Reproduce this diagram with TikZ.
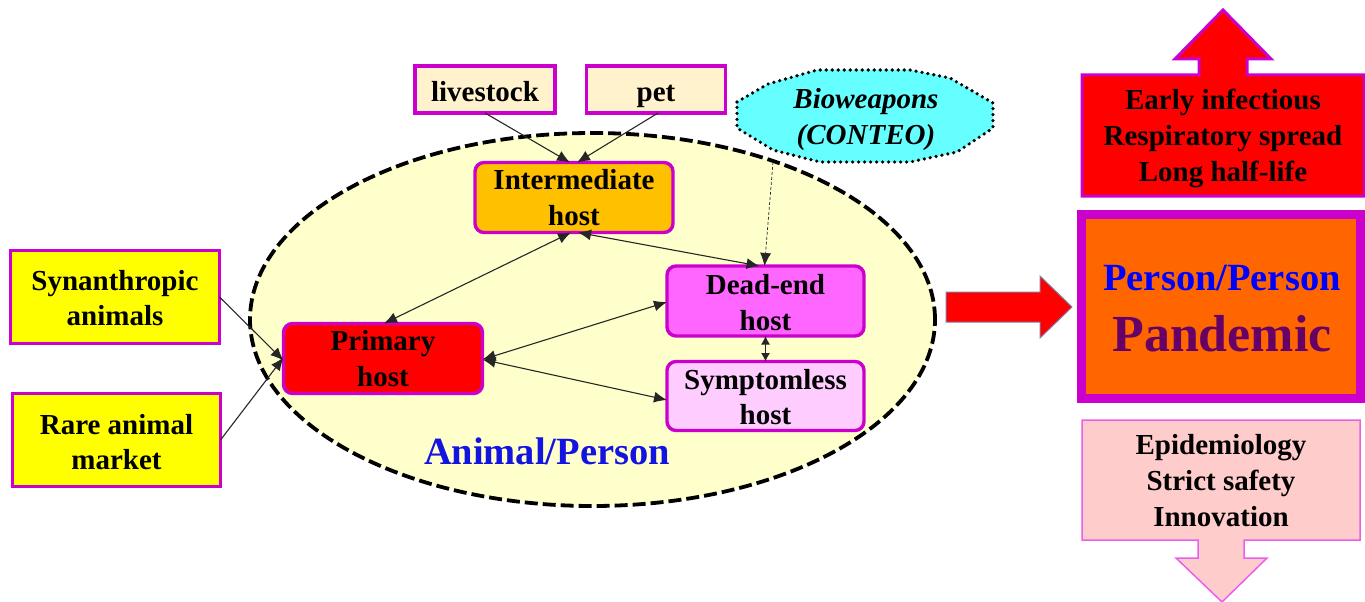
\documentclass[tikz,border=0pt]{standalone}
\usepackage{fontspec}
\setmainfont{Liberation Serif}
\usetikzlibrary{arrows.meta,shapes.geometric}
\definecolor{mag}{HTML}{CC00CC}
\definecolor{softmag}{HTML}{E95FE9}
\definecolor{ell}{HTML}{FFFFCC}
\definecolor{cream}{HTML}{FFF2CC}
\definecolor{amber}{HTML}{FFC000}
\definecolor{deadc}{HTML}{FF66FF}
\definecolor{symc}{HTML}{FFCCFF}
\definecolor{cyanb}{HTML}{66FFFF}
\definecolor{orangeb}{HTML}{FF6600}
\definecolor{pinkb}{HTML}{FFCCCC}
\definecolor{purp}{HTML}{660066}
\definecolor{greyblue}{HTML}{7A7FA8}
\definecolor{pureyellow}{HTML}{FFFF00}
\newcommand{\firstdrop}[1]{\rule{0pt}{#1pt}}
\tikzset{
  x=1pt,y=-1pt,
  lab/.style={font=\bfseries\fontsize{29}{36}\selectfont,align=center,text=black,inner sep=0pt,outer sep=0pt},
  sqbox/.style={lab,draw=mag,line width=3.4pt,rectangle},
  hostbox/.style={lab,draw=mag,line width=3.4pt,rectangle,rounded corners=9pt},
  link/.style={draw=black!85,line width=1.1pt,-{Latex[length=13pt,width=11pt]}},
  biway/.style={draw=black!85,line width=1.1pt,{Latex[length=13pt,width=11pt]}-{Latex[length=13pt,width=11pt]}},
  shortway/.style={draw=black!85,line width=1.1pt,{Latex[length=8.5pt,width=9pt]}-{Latex[length=8.5pt,width=9pt]}},
}
\begin{document}
\begin{tikzpicture}
\useasboundingbox (0,0) rectangle (1365,602);
% ellipse
\node[draw=black,fill=ell,line width=3.8pt,dash pattern=on 13pt off 5pt,ellipse,inner sep=0pt,outer sep=0pt,minimum width=685pt,minimum height=373pt] (region) at (592.5,319.5) {};
\node[font=\bfseries\fontsize{38.5}{44}\selectfont,text={rgb,255:red,20;green,20;blue,225},inner sep=0pt] (regionlabel) at (547,451) {Animal/Person};
% top boxes
\node[sqbox,fill=cream,minimum width=140pt,minimum height=47pt] (livestock) at (485,89.5) {\raisebox{0pt}[23pt][0pt]{livestock}};
\node[sqbox,fill=cream,minimum width=139pt,minimum height=47pt] (pet) at (656,89.5) {\raisebox{0pt}[23pt][0pt]{pet}};
\draw[fill=cyanb,draw=black,line width=3.6pt,line cap=round,dash pattern=on 0pt off 6pt]
  (737,102) -- (768,84) -- (817,70) -- (910,70) -- (950,78) -- (993,103) -- (993,128) -- (957,152) -- (910,162) -- (820,162) -- (773,150) -- (737,128) -- cycle;
\node[font=\bfseries\itshape\fontsize{29}{36}\selectfont,align=center,inner sep=0pt] (bio) at (866,119.5) {Bioweapons\\(CONTEO)};
\coordinate (biofoot) at (773,162);
% hosts
\node[hostbox,fill=amber,minimum width=198pt,minimum height=70pt] (inter) at (574,197.5) {Intermediate\\host};
\node[hostbox,fill=red,minimum width=199pt,minimum height=70pt] (primary) at (383,358.5) {Primary\\host};
\node[hostbox,fill=deadc,minimum width=197pt,minimum height=70pt] (dead) at (765.5,301) {\firstdrop{23}Dead-end\\host};
\node[hostbox,fill=symc,minimum width=197pt,minimum height=69pt] (sym) at (765.5,396) {\firstdrop{22.5}Symptomless\\[-1.5pt]host};
% left boxes
\node[sqbox,fill=pureyellow,minimum width=209pt,minimum height=93pt] (syn) at (115,297) {\firstdrop{22.6}Synanthropic\\[-1pt]animals};
\node[sqbox,fill=pureyellow,minimum width=208pt,minimum height=93pt] (rare) at (116.5,440) {\firstdrop{24}Rare animal\\[-1pt]market};
% connectors
\draw[link] (livestock.south) -- ([xshift=-4pt]inter.north);
\draw[link] ([xshift=2pt]pet.south) -- ([xshift=3pt]inter.north);
\draw[link,densely dashed,line width=0.7pt] (biofoot) -- ([xshift=-1pt]dead.north);
\draw[biway] ([xshift=1pt]primary.north) -- ([xshift=-3pt]inter.south);
\draw[biway] ([xshift=4pt]inter.south) -- ([xshift=-6pt]dead.north);
\draw[biway] ([yshift=-1pt]primary.east) -- ([yshift=-1pt]dead.west);
\draw[biway] ([yshift=-1pt]primary.east) -- ([yshift=-4pt]sym.west);
\draw[shortway] (dead.south) -- (sym.north);
\draw[link] (syn.east) -- ([yshift=-2pt]primary.west);
\draw[link] (rare.east) -- ([yshift=1pt]primary.west);
% right
\draw[fill=red,draw=mag,line width=3pt] (1082,75) -- (1199,75) -- (1199,59) -- (1175,59) -- (1223,10) -- (1271,59) -- (1247,59) -- (1247,75) -- (1364,75) -- (1364,196) -- (1082,196) -- cycle;
\node[lab,fill=none] (early) at (1223,138) {Early infectious\\Respiratory spread\\Long half-life};
\node[rectangle,draw=mag,fill=orangeb,line width=9pt,minimum width=279pt,minimum height=184pt,inner sep=0pt,outer sep=0pt] (pand) at (1221,306.5) {};
\node[font=\bfseries\fontsize{38.5}{44}\selectfont,text=blue,inner sep=0pt] (pp) at (1222,278) {Person/Person};
\node[font=\bfseries\fontsize{52}{56}\selectfont,text=purp,inner sep=0pt] (pm) at (1222,334) {Pandemic};
\draw[fill=pinkb,draw=softmag,line width=1.5pt] (1082,420) -- (1360,420) -- (1360,540) -- (1244,540) -- (1244,558) -- (1267,558) -- (1222,602) -- (1176,558) -- (1198,558) -- (1198,540) -- (1082,540) -- cycle;
\node[lab] (epi) at (1221,481) {Epidemiology\\Strict safety\\Innovation};
\draw[fill=red,draw=greyblue,line width=1pt] (946,292) -- (1040,292) -- (1040,276) -- (1072,307) -- (1040,338) -- (1040,322) -- (946,322) -- cycle;
\end{tikzpicture}
\end{document}
